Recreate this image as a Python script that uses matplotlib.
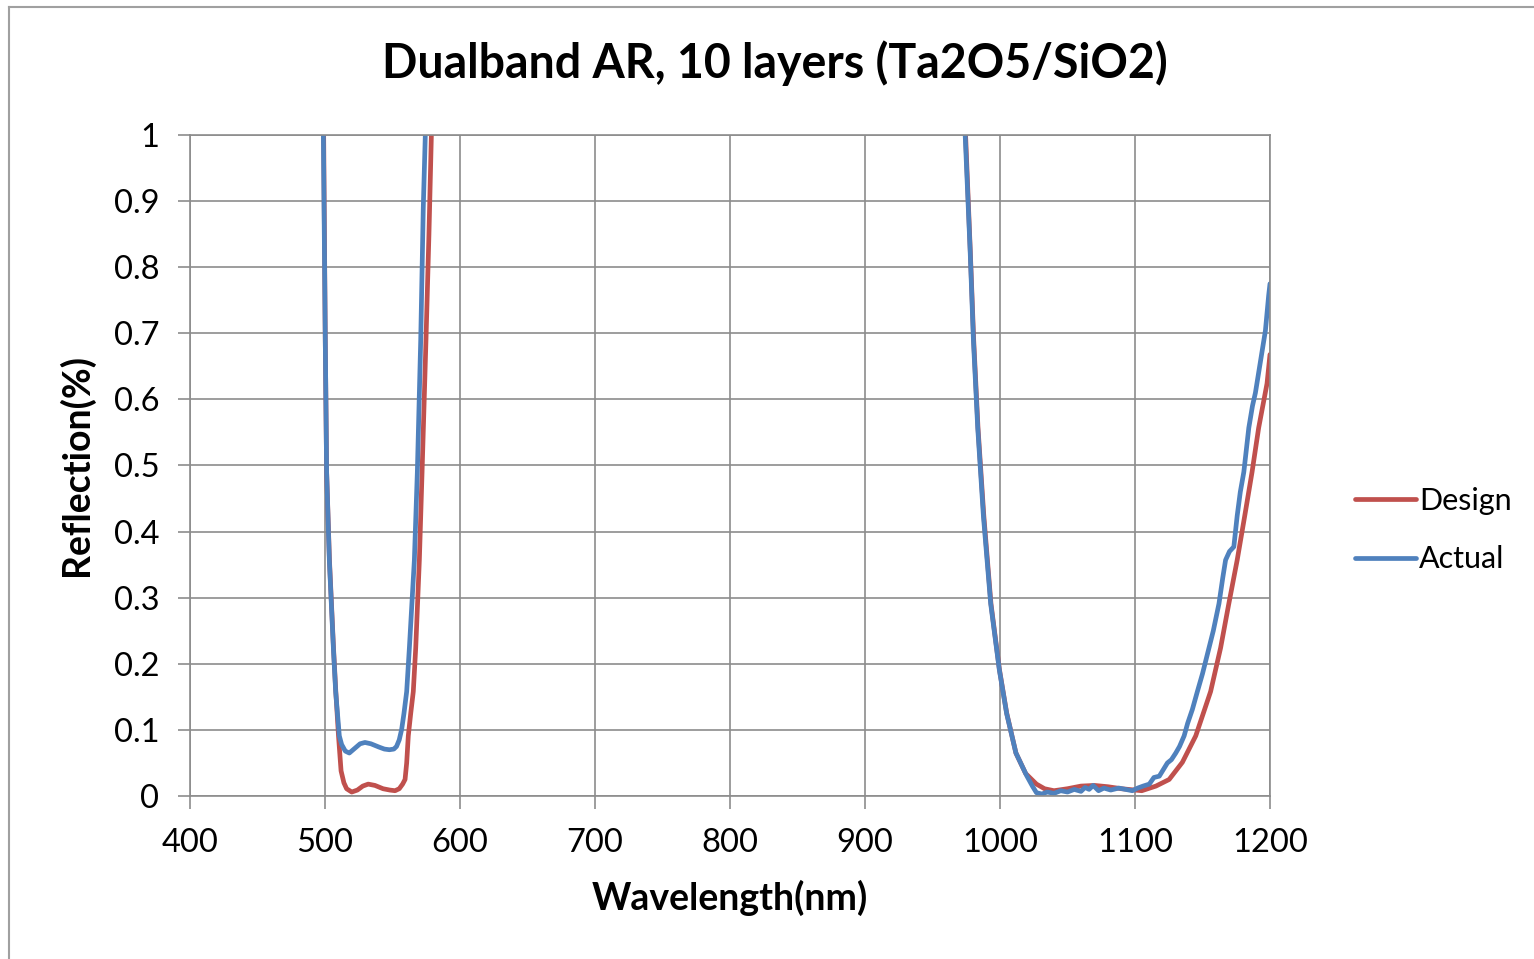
import numpy as np
import matplotlib
matplotlib.use("Agg")
import matplotlib.pyplot as plt
from matplotlib.lines import Line2D

title = "Dualband AR, 10 layers (Ta2O5/SiO2)"
xlabel = "Wavelength(nm)"
ylabel = "Reflection(%)"
xticks = [400, 500, 600, 700, 800, 900, 1000, 1100, 1200]
yticks = [0, 0.1, 0.2, 0.3, 0.4, 0.5, 0.6, 0.7, 0.8, 0.9, 1]
ytick_labels = ["0", "0.1", "0.2", "0.3", "0.4", "0.5", "0.6", "0.7", "0.8", "0.9", "1"]

# Design (visible band 1 and band 2; curve above 1 in between is off-scale)
design_wl_1 = [499.0, 500.2, 501.2, 503.3, 506.3, 508.0, 510.0, 511.9, 514.0, 516.0, 519.8, 524.0,
               528.0, 532.0, 537.0, 543.0, 548.0, 551.9, 555.0, 557.5, 559.3, 560.5, 561.7, 563.5,
               565.4, 567.2, 569.9, 571.9, 574.8, 577.0, 578.8]
design_r_1 = [1.0, 0.69, 0.49, 0.357, 0.224, 0.158, 0.091, 0.038, 0.02, 0.011, 0.006, 0.009,
              0.015, 0.018, 0.016, 0.011, 0.009, 0.008, 0.011, 0.018, 0.025, 0.05, 0.091, 0.125,
              0.158, 0.224, 0.357, 0.49, 0.69, 0.85, 1.0]
design_wl_2 = [974.5, 978.0, 980.5, 983.7, 988.0, 993.3, 999.6, 1005.0, 1011.8, 1019.0, 1027.0,
               1033.0, 1040.0, 1050.0, 1060.0, 1070.0, 1080.0, 1090.0, 1100.0, 1105.0, 1115.5,
               1125.3, 1135.1, 1145.0, 1156.0, 1163.4, 1169.5, 1175.7, 1181.3, 1186.7, 1191.6,
               1197.8, 1200.0]
design_r_2 = [1.0, 0.824, 0.69, 0.557, 0.424, 0.291, 0.191, 0.125, 0.065, 0.034, 0.018,
              0.011, 0.008, 0.011, 0.015, 0.016, 0.014, 0.011, 0.009, 0.008, 0.015,
              0.025, 0.051, 0.091, 0.158, 0.224, 0.291, 0.357, 0.424, 0.49, 0.557,
              0.624, 0.668]

# Actual (measured)
actual_wl_1 = [498.8, 500.2, 501.2, 503.2, 506.2, 507.9, 510.6, 512.3, 515.0, 518.0, 522.0,
               526.0, 529.6, 534.0, 540.0, 544.0, 547.7, 551.0, 553.0, 555.0, 556.8, 558.5,
               560.5, 562.5, 566.2, 568.4, 570.9, 572.8, 574.3]
actual_r_1 = [1.0, 0.69, 0.49, 0.357, 0.224, 0.158, 0.091, 0.078, 0.068, 0.065, 0.072,
              0.079, 0.081, 0.079, 0.074, 0.071, 0.07, 0.071, 0.075, 0.085, 0.101, 0.125,
              0.158, 0.224, 0.357, 0.49, 0.69, 0.89, 1.0]
actual_wl_2 = [974.2, 977.9, 980.3, 983.5, 987.7, 993.1, 999.5, 1004.9, 1011.8, 1019.7, 1024.0,
               1027.0, 1031.0, 1035.0, 1040.0, 1045.0, 1050.0, 1055.0, 1060.0, 1063.0, 1066.0,
               1069.0, 1073.0, 1077.0, 1082.0, 1088.0, 1093.0, 1098.0, 1102.0, 1106.0, 1110.6,
               1114.0, 1118.0, 1120.4, 1124.0, 1127.0, 1130.2, 1133.0, 1136.4, 1139.0, 1142.5,
               1146.2, 1150.0, 1154.8, 1158.0, 1162.2, 1165.0, 1167.1, 1170.0, 1173.2, 1175.7,
               1178.0, 1180.6, 1184.3, 1187.0, 1189.2, 1192.9, 1196.6, 1199.0, 1200.0]
actual_r_2 = [1.0, 0.824, 0.69, 0.557, 0.424, 0.291, 0.191, 0.125, 0.065, 0.031, 0.015,
              0.005, 0.003, 0.006, 0.004, 0.008, 0.006, 0.01, 0.007, 0.013, 0.01,
              0.016, 0.008, 0.012, 0.009, 0.012, 0.01, 0.008, 0.012, 0.015, 0.018,
              0.028, 0.03, 0.038, 0.05, 0.055, 0.065, 0.075, 0.091, 0.11, 0.131,
              0.158, 0.185, 0.224, 0.25, 0.291, 0.33, 0.357, 0.37, 0.377, 0.424,
              0.46, 0.49, 0.557, 0.59, 0.61, 0.657, 0.704, 0.757, 0.775]

RED = "#C0504D"
BLUE = "#4F81BD"
GRID = "#8C8C8C"

plt.rcParams['font.family'] = ['Lato', 'DejaVu Sans']

fig = plt.figure(figsize=(15.34, 9.59), dpi=100)
ax = fig.add_axes([190/1534, 1-796/959, (1270-190)/1534, (796-135)/959])

dx = list(design_wl_1) + [np.nan] + list(design_wl_2)
dy = list(design_r_1) + [np.nan] + list(design_r_2)
axx = list(actual_wl_1) + [np.nan] + list(actual_wl_2)
ayy = list(actual_r_1) + [np.nan] + list(actual_r_2)

ax.plot(dx, dy, color=RED, lw=3.4, label="Design", solid_joinstyle='round', solid_capstyle='round')
ax.plot(axx, ayy, color=BLUE, lw=3.4, label="Actual", solid_joinstyle='round', solid_capstyle='round')

ax.set_xlim(400, 1200)
ax.set_ylim(0, 1)
ax.set_xticks(xticks)
ax.set_yticks(yticks)
ax.set_yticklabels(ytick_labels)
ax.grid(True, color=GRID, lw=1.2)
ax.set_axisbelow(True)
for s in ax.spines.values():
    s.set_color(GRID)
    s.set_linewidth(1.2)
ax.tick_params(axis='both', direction='out', length=9, width=1.2, color=GRID,
               labelsize=23.5)
ax.tick_params(axis='y', pad=13)
ax.tick_params(axis='x', pad=14)

fig.text(775/1534, 1-63/959, title, fontsize=33.5, fontweight='bold', ha='center', va='center')
ax.set_xlabel(xlabel, fontsize=27, fontweight='bold', labelpad=16)
ax.set_ylabel(ylabel, fontsize=27, fontweight='bold', labelpad=14)

leg = fig.legend(loc='center left', bbox_to_anchor=(1343/1534, 1-530/959), frameon=False,
                 fontsize=22, handlelength=2.0, handletextpad=0.1, labelspacing=1.0,
                 borderaxespad=0)
for h in leg.get_lines():
    h.set_linewidth(3.4)

# chart area border (top and left visible)
fig.add_artist(Line2D([9/1534, 9/1534], [0, 1-7/959], color="#A0A0A0", lw=1.5))
fig.add_artist(Line2D([9/1534, 1], [1-7/959, 1-7/959], color="#A0A0A0", lw=1.5))

fig.savefig("out.png", dpi=100)
